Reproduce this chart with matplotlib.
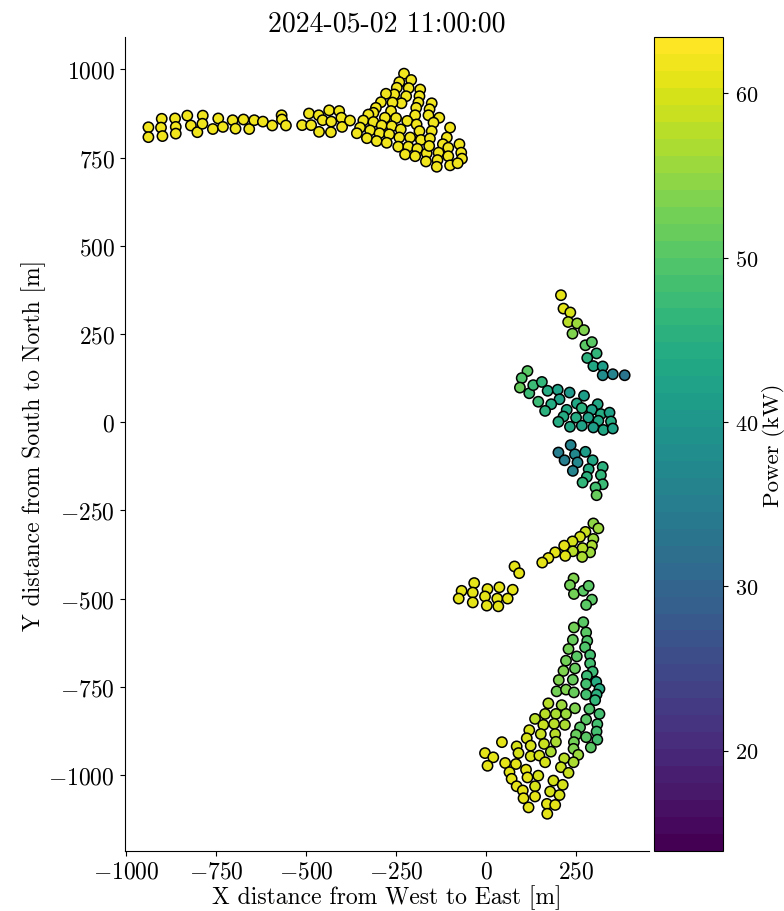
import numpy as np
import matplotlib
matplotlib.use("Agg")
import matplotlib.pyplot as plt

plt.rcParams["font.family"] = "serif"
plt.rcParams["font.serif"] = ["cmr10"]
plt.rcParams["mathtext.fontset"] = "cm"
plt.rcParams["axes.formatter.use_mathtext"] = True

timestamp = "2024-05-02 11:00:00"

# turbine positions [m] and power [kW]
x_east = [
    # north-west row
    -938, -938, -901, -903, -899, -864, -862, -862, -830, -820, -802, -787, -788,
    -759, -744, -731, -704, -696, -674, -658, -644, -620, -594, -568, -567, -556,
    -511, -492, -486, -465, -464, -454, -436, -430, -431, -408, -402, -400, -378,
    -228, -208, -241, -215, -248, -255, -222, -278, -235, -260, -292, -264, -306,
    -313, -327, -341, -313, -281, -250, -350, -359, -322, -290, -262, -331, -296,
    -269, -304, -276, -183, -185, -188, -194, -197, -219, -193, -185, -237, -241,
    -211, -181, -244, -216, -191, -225, -197, -165, -151, -157, -160, -130, -146,
    -151, -156, -158, -167, -100, -109, -120, -132, -135, -137, -105, -105, -100,
    -74, -69, -67, -79,
    # east arc, north part
    208, 215, 234, 228, 253, 240, 272, 276, 294, 307, 281, 298, 324, 324, 352, 385,
    115, 99, 94, 120, 131, 155, 171, 145, 199, 204, 181, 164, 232, 272, 252, 266,
    224, 310, 294, 319, 343, 215, 250, 284, 312, 347, 201, 233, 266, 298, 326, 352,
    201, 235, 218, 247, 254, 241, 276, 296, 285, 280, 268, 324, 319, 324, 304, 307,
    # middle
    298, 312, 276, 261, 240, 217, 298, 294, 289, 268, 267, 241, 220, 192, 173, 156,
    79, 92, 243, 233, 244, 270, 285, 294, 278,
    -68, -76, -33, -37, -37, 4, -3, 2, 37, 31, 34, 74, 60,
    # south field
    270, 244, 278, 281, 241, 275, 229, 289, 252, 222, 289, 247, 215, 296, 280, 241,
    202, 306, 278, 315, 196, 222, 244, 278, 307, 303, 173, 210, 247, 287,
    315, 164, 194, 222, 136, 159, 189, 219, 278, 261, 309, 120, 152, 192, 250, 307,
    113, 194, 244, 278, 309, 44, 85, 124, 161, 180, 243, 291, -3, 20, 4, 90, 124,
    148, 164, 217, 256, 243, 53, 83, 208, 229, 65, 111, 145, 71, 115, 187, 213, 85,
    136, 102, 178, 204, 104, 136, 169, 192, 118, 170,
]
y_north = [
    836, 808, 860, 835, 811, 861, 837, 818, 869, 841, 822, 869, 846,
    831, 861, 837, 856, 832, 858, 831, 856, 852, 841, 870, 858, 841,
    842, 875, 842, 870, 823, 856, 884, 852, 822, 882, 863, 837, 855,
    988, 970, 964, 947, 948, 929, 924, 931, 904, 906, 907, 882, 891,
    877, 872, 855, 851, 863, 862, 835, 819, 827, 841, 839, 805, 819,
    816, 797, 792, 943, 924, 906, 891, 870, 854, 844, 825, 830, 807,
    807, 800, 781, 781, 775, 759, 754, 762, 904, 887, 870, 863, 849,
    825, 804, 783, 739, 835, 807, 788, 764, 743, 724, 778, 754, 728,
    788, 764, 747, 734,
    360, 322, 311, 284, 280, 251, 261, 218, 227, 195, 182, 159, 158, 133, 136, 133,
    145, 125, 98, 82, 105, 114, 89, 58, 92, 65, 51, 32, 84, 75, 53, 40,
    35, 51, 35, 23, 27, 16, 13, 13, 4, 2, 1, -13, -10, -15, -22, -18,
    -86, -65, -108, -91, -114, -138, -84, -108, -133, -155, -171, -127, -150, -176, -185, -207,
    -287, -301, -311, -325, -338, -350, -331, -350, -369, -357, -382, -366, -379, -369, -385, -398,
    -409, -428, -443, -462, -487, -478, -464, -503, -518,
    -478, -500, -456, -483, -511, -473, -494, -520, -468, -500, -522, -475, -500,
    -567, -582, -596, -620, -617, -638, -643, -660, -664, -676, -684, -698, -705, -707, -719, -730,
    -731, -736, -742, -756, -763, -758, -766, -772, -772, -788, -797, -802, -811, -813,
    -827, -827, -827, -827, -841, -858, -855, -858, -843, -865, -856, -873, -884, -884, -886, -877,
    -896, -906, -907, -893, -900, -907, -919, -917, -912, -934, -926, -922, -938, -950, -974, -938, -947,
    -945, -964, -953, -943, -964, -966, -969, -978, -994, -992, -985, -1002, -1011, -1007, -1016, -1028, -1032,
    -1032, -1044, -1047, -1057, -1066, -1061, -1082, -1085, -1092, -1110,
]
power_kw = [62] * 108 + [
    61, 60.5, 60, 58, 56, 54, 54, 50, 50, 46, 45, 43, 41, 38, 36, 33,
    50, 49, 52, 47, 47, 46, 44, 47, 42, 42, 44, 45, 40, 41, 43, 45,
    43, 43, 42, 44, 42, 44, 44, 42, 43, 44, 44, 43, 42, 41, 43, 42,
    35, 36, 35, 37, 37, 36, 41, 43, 44, 45, 46, 45, 46, 47, 48, 52,
    55, 56, 59, 60, 60, 61, 56, 57, 56, 58, 57, 58, 61, 61, 61, 61,
    61, 61, 54, 53, 53, 51, 50, 50, 51,
    61, 61, 61, 61, 61, 61, 61, 61, 61, 61, 61, 61, 61,
    50, 53, 50, 49, 52, 49, 53, 48, 51, 53, 48, 52, 54, 47, 47, 52,
    54, 44, 48, 44, 53, 54, 52, 48, 45, 46, 58, 56, 54, 49,
    48, 58, 57, 56, 58, 59, 58, 57, 50, 51, 48, 60, 59, 58, 52, 48,
    60, 57, 53, 50, 48, 61, 60, 60, 59, 57, 54, 50, 61, 61, 61, 60, 60,
    60, 60, 58, 56, 57, 61, 61, 59, 59, 61, 61, 60, 61, 61, 60, 60, 61,
    60, 61, 60, 60, 61, 61, 61, 61, 61, 61,
]

p_min, p_max = 13.9, 63.4

fig = plt.figure(figsize=(7.84, 9.12), dpi=100)
ax = fig.add_axes([0.159, 0.066, 0.669, 0.892])
cax = fig.add_axes([0.834, 0.066, 0.088, 0.892])

cmap = plt.get_cmap("viridis", 48)
sc = ax.scatter(x_east, y_north, c=power_kw, cmap=cmap, vmin=p_min, vmax=p_max,
                s=55, edgecolors="black", linewidths=1.1, zorder=3)

ax.set_xlim(-1004, 453)
ax.set_ylim(-1215, 1091)
ax.set_xticks([-1000, -750, -500, -250, 0, 250])
ax.set_yticks([-1000, -750, -500, -250, 0, 250, 500, 750, 1000])
ax.spines["top"].set_visible(False)
ax.spines["right"].set_visible(False)
ax.tick_params(labelsize=17)
ax.set_xlabel("X distance from West to East [m]", fontsize=17, labelpad=1)
ax.set_ylabel("Y distance from South to North [m]", fontsize=17, labelpad=2)
ax.set_title(timestamp, fontsize=20, pad=5)

cb = fig.colorbar(sc, cax=cax)
cb.set_ticks([20, 30, 40, 50, 60])
cb.ax.tick_params(labelsize=16, pad=5)
cb.set_label("Power (kW)", fontsize=16.5, labelpad=3)

fig.savefig("out.png", dpi=100)
